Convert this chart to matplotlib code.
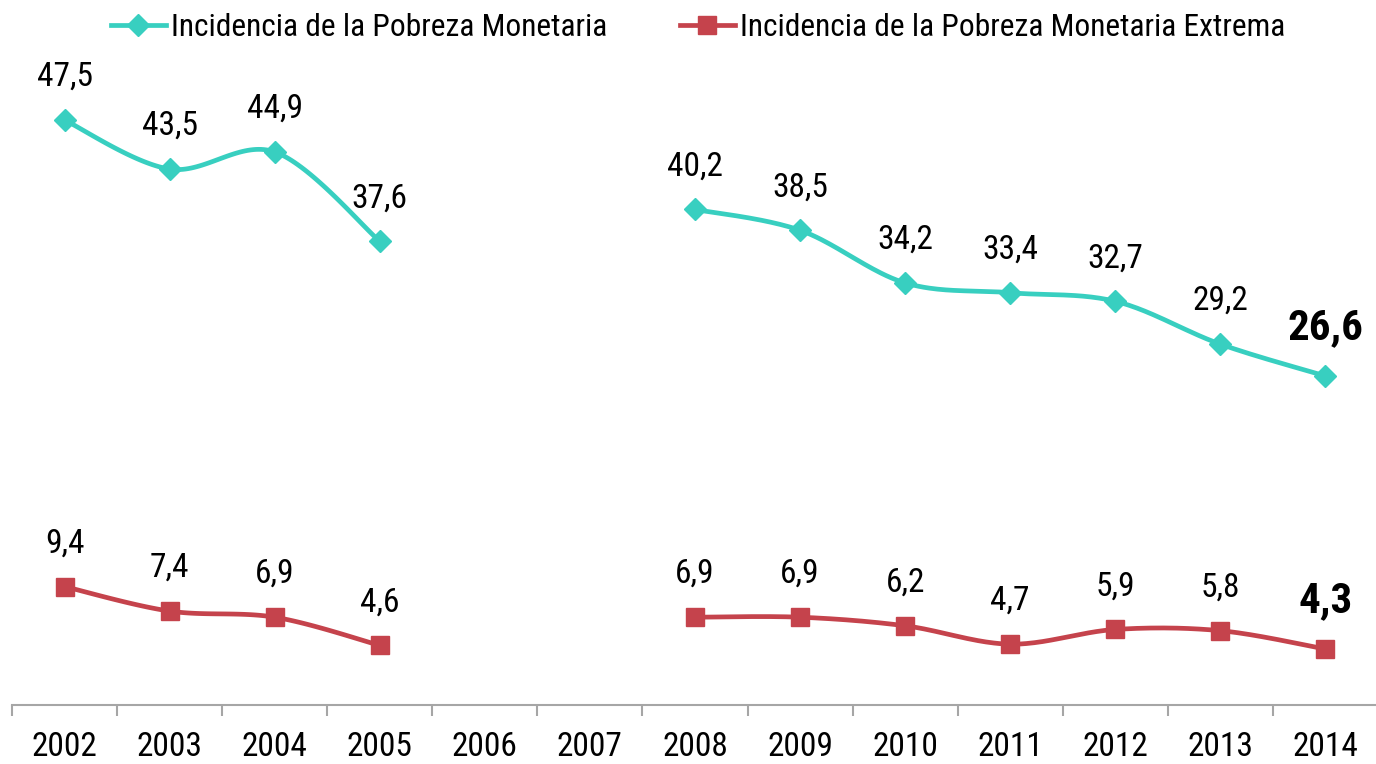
import numpy as np
import matplotlib
matplotlib.use("Agg")
import matplotlib.pyplot as plt
from matplotlib.lines import Line2D

years = ["2002", "2003", "2004", "2005", "2006", "2007", "2008",
         "2009", "2010", "2011", "2012", "2013", "2014"]
pobreza = [47.5, 43.5, 44.9, 37.6, None, None, 40.2, 38.5, 34.2, 33.4, 32.7, 29.2, 26.6]
extrema = [9.4, 7.4, 6.9, 4.6, None, None, 6.9, 6.9, 6.2, 4.7, 5.9, 5.8, 4.3]
labels_names = ["Incidencia de la Pobreza Monetaria",
                "Incidencia de la Pobreza Monetaria Extrema"]

teal = "#38CFC0"
red = "#C5434C"
FONT = ["Roboto Condensed", "DejaVu Sans"]
plt.rcParams["font.family"] = FONT

fig = plt.figure(figsize=(13.76, 7.64), dpi=100)
ax = fig.add_axes([12 / 1376, 59 / 764, 1366 / 1376, 665 / 764])
ax.set_xlim(-0.5, 12.5)
ax.set_ylim(-0.27, 54.04)


def segments(vals):
    segs, cur = [], []
    for i, v in enumerate(vals):
        if v is None:
            if cur:
                segs.append(cur)
            cur = []
        else:
            cur.append((i, v))
    if cur:
        segs.append(cur)
    return segs


def smooth(pts, n=40):
    P = np.array(pts, dtype=float)
    xs, ys = [], []
    for i in range(len(P) - 1):
        p0 = P[i - 1] if i > 0 else P[i]
        p1 = P[i]
        p2 = P[i + 1]
        p3 = P[i + 2] if i + 2 < len(P) else P[i + 1]
        c1 = p1 + (p2 - p0) / 6.0
        c2 = p2 - (p3 - p1) / 6.0
        t = np.linspace(0, 1, n)[:, None]
        b = ((1 - t) ** 3) * p1 + 3 * ((1 - t) ** 2) * t * c1 + 3 * (1 - t) * t ** 2 * c2 + t ** 3 * p2
        xs.extend(b[:, 0]); ys.extend(b[:, 1])
    return xs, ys


LW = 3.4
for vals, col, mk, ms in [(pobreza, teal, "D", 11), (extrema, red, "s", 13)]:
    for seg in segments(vals):
        sx, sy = smooth(seg)
        ax.plot(sx, sy, color=col, lw=LW, solid_capstyle="round", zorder=2)
        ax.plot([p[0] for p in seg], [p[1] for p in seg], ls="none", marker=mk,
                ms=ms, color=col, zorder=3)
    last = len(vals) - 1
    for i, v in enumerate(vals):
        if v is None:
            continue
        txt = f"{v:.1f}".replace(".", ",")
        if i == last:
            ax.annotate(txt, (i, v), xytext=(0, 35), textcoords="offset points",
                        ha="center", va="center", fontsize=31, fontweight="semibold",
                        color="black")
        else:
            ax.annotate(txt, (i, v), xytext=(0, 31), textcoords="offset points",
                        ha="center", va="center", fontsize=24, color="black")

for s in ["top", "right", "left"]:
    ax.spines[s].set_visible(False)
ax.spines["bottom"].set_color("#A6A6A6")
ax.spines["bottom"].set_linewidth(1.5)
ax.set_yticks([])
ax.set_xticks(range(len(years)))
ax.set_xticklabels(years, fontsize=24)
ax.tick_params(axis="x", length=0, pad=19)
ax.set_xticks(np.arange(-0.5, 12.5, 1.0), minor=True)
ax.tick_params(axis="x", which="minor", length=8, width=1.5, color="#A6A6A6", direction="out")

handles = [Line2D([], [], color=teal, lw=LW, marker="D", ms=11),
           Line2D([], [], color=red, lw=LW, marker="s", ms=13)]
fig.legend(handles, labels_names, loc="center", bbox_to_anchor=(698 / 1376, 1 - 28 / 764),
           ncol=2, frameon=False, fontsize=22.7, handlelength=1.75, handletextpad=0.16,
           columnspacing=2.3)

fig.savefig("out.png", dpi=100)
